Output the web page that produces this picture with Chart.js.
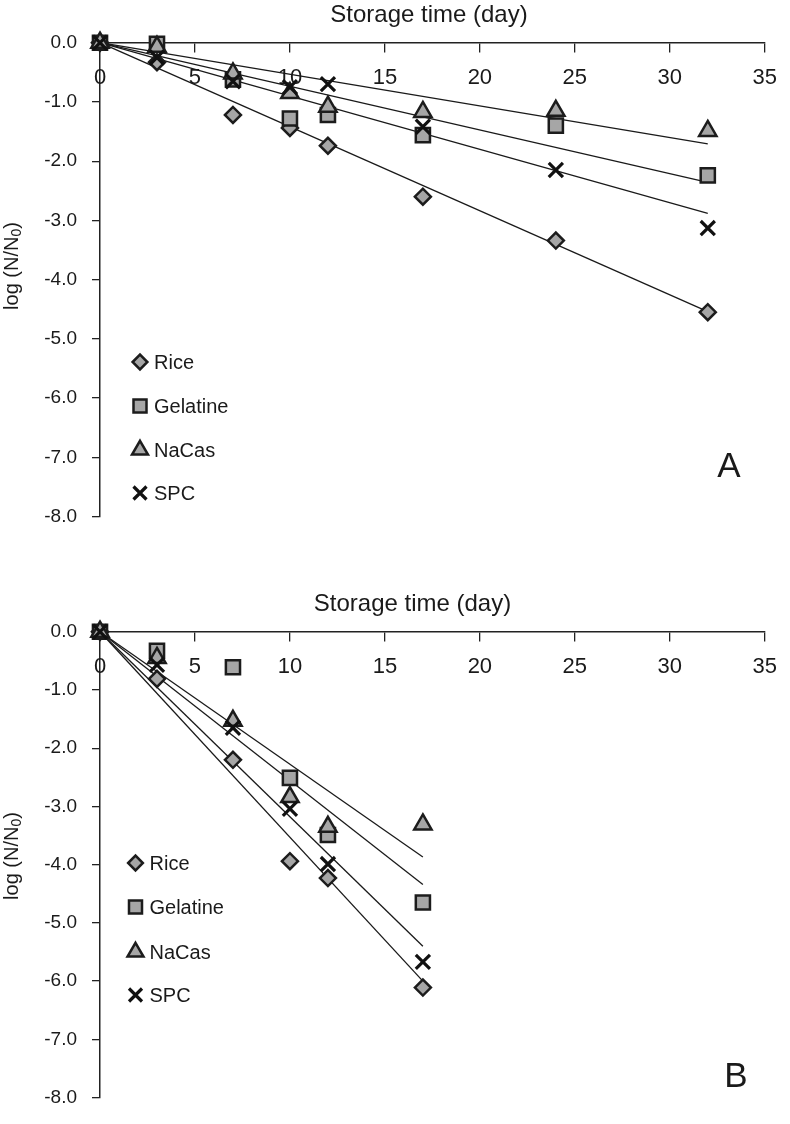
<!DOCTYPE html>
<html>
<head>
<meta charset="utf-8">
<script src="https://cdn.jsdelivr.net/npm/chart.js@4/dist/chart.umd.min.js"></script>
<style>
html, body { margin: 0; padding: 0; background: #fff; }
#wrapA { position: absolute; left: 0; top: 0; width: 790px; height: 560px; }
#wrapB { position: absolute; left: 0; top: 560px; width: 790px; height: 564px; }
</style>
</head>
<body>
<div id="wrapA"><canvas id="chartA" width="790" height="560"></canvas></div>
<div id="wrapB"><canvas id="chartB" width="790" height="564"></canvas></div>
<script>
var seriesNames = ['Rice', 'Gelatine', 'NaCas', 'SPC'];
var pointStyles = ['rectRot', 'rect', 'triangle', 'crossRot'];
var pointSizes = [8, 10, 10, 10];

// panel A
var daysA = [0, 3, 7, 10, 12, 17, 24, 32];
var riceA = [0, -0.33, -1.22, -1.44, -1.74, -2.60, -3.34, -4.55];
var gelatineA = [0, -0.02, -0.62, -1.28, -1.22, -1.56, -1.40, -2.24];
var nacasA = [0, -0.07, -0.52, -0.85, -1.08, -1.17, -1.15, -1.49];
var spcA = [0, -0.25, -0.65, -0.75, -0.70, -1.42, -2.15, -3.13];
// fitted lines: value at day 0 and at last day
var trendStartA = [0, 0, 0, 0];
var trendEndA = [-4.54, -2.36, -1.71, -2.88];

// panel B
var daysB = [0, 3, 7, 10, 12, 17];
var riceB = [0, -0.81, -2.20, -3.94, -4.23, -6.11];
var gelatineB = [0, -0.33, -0.61, -2.51, -3.49, -4.65];
var nacasB = [0, -0.45, -1.53, -2.84, -3.35, -3.31];
var spcB = [0, -0.57, -1.65, -3.04, -3.99, -5.67];
var trendStartB = [0, 0, 0, 0];
var trendEndB = [-6.00, -4.34, -3.87, -5.40];

var xMin = 0, xMax = 35, xStep = 5;
var yMin = -8, yMax = 0, yStep = 1;

var FONT = '"Liberation Sans", Arial, Helvetica, sans-serif';
var INK = '#1a1a1a';
var markerFill = '#a6a6a6';
var markerEdge = '#1c1c1c';

Chart.defaults.font.family = FONT;
Chart.defaults.color = INK;

function buildDatasets(days, series, tStart, tEnd) {
    var sets = [];
    series.forEach(function (vals, i) {
        sets.push({
            label: seriesNames[i],
            data: days.map(function (d, j) { return {x: d, y: vals[j]}; }),
            showLine: false,
            pointStyle: pointStyles[i],
            pointRadius: pointSizes[i],
            pointHoverRadius: pointSizes[i],
            pointBackgroundColor: markerFill,
            pointBorderColor: i == 3 ? '#111' : markerEdge,
            pointBorderWidth: i == 3 ? 3.2 : 2.5,
            backgroundColor: markerFill,
            borderColor: markerEdge,
            order: 4 - i,
            clip: false
        });
    });
    tEnd.forEach(function (v, i) {
        sets.push({
            label: seriesNames[i] + ' fit',
            isTrend: true,
            data: [{x: days[0], y: tStart[i]}, {x: days[days.length - 1], y: v}],
            showLine: true,
            borderColor: INK,
            borderWidth: 1.3,
            pointRadius: 0,
            pointHoverRadius: 0,
            order: 10,
            clip: false
        });
    });
    return sets;
}

// axis titles, panel letter and legend drawn on top
var extraText = {
    id: 'extraText',
    afterDraw: function (chart, args, o) {
        var ctx = chart.ctx;
        ctx.save();
        ctx.fillStyle = INK;
        ctx.textBaseline = 'middle';
        ctx.textAlign = 'center';
        ctx.font = '24px ' + FONT;
        ctx.fillText('Storage time (day)', o.xTitle[0], o.xTitle[1]);

        ctx.font = '35px ' + FONT;
        ctx.fillText(o.letter, o.letterPos[0], o.letterPos[1]);

        // legend
        ctx.textAlign = 'left';
        ctx.font = '20px ' + FONT;
        var row = 0;
        chart.data.datasets.forEach(function (ds) {
            if (ds.isTrend) return;
            var y = o.legendRows[row++];
            ctx.fillStyle = ds.pointBackgroundColor;
            ctx.strokeStyle = ds.pointBorderColor;
            ctx.lineWidth = ds.pointBorderWidth;
            Chart.helpers.drawPoint(ctx, {
                pointStyle: ds.pointStyle,
                radius: ds.pointRadius * 0.92,
                borderWidth: ds.pointBorderWidth,
                rotation: 0
            }, o.legendX, y);
            ctx.fillStyle = INK;
            ctx.fillText(ds.label, o.legendTextX, y + 1);
        });

        // y title with subscript
        ctx.translate(o.yTitle[0], o.yTitle[1]);
        ctx.rotate(-Math.PI / 2);
        var big = '20px ' + FONT, small = '14px ' + FONT;
        ctx.font = big;
        var w1 = ctx.measureText('log (N/N').width;
        var w3 = ctx.measureText(')').width;
        ctx.font = small;
        var w2 = ctx.measureText('0').width;
        var x0 = -(w1 + w2 + w3) / 2;
        ctx.font = big;
        ctx.fillText('log (N/N', x0, 0);
        ctx.font = small;
        ctx.fillText('0', x0 + w1, 5);
        ctx.font = big;
        ctx.fillText(')', x0 + w1 + w2, 0);
        ctx.restore();
    }
};

function makeChart(id, datasets, padding, text) {
    return new Chart(document.getElementById(id), {
        type: 'scatter',
        data: {datasets: datasets},
        plugins: [extraText],
        options: {
            responsive: false,
            devicePixelRatio: 1,
            animation: false,
            events: [],
            layout: {padding: padding},
            plugins: {
                legend: {display: false},
                tooltip: {enabled: false},
                extraText: text
            },
            scales: {
                y: {
                    type: 'linear',
                    position: 'left',
                    min: yMin,
                    max: yMax,
                    ticks: {
                        stepSize: yStep,
                        font: {size: 19},
                        color: INK,
                        padding: 15,
                        callback: function (v) { return v.toFixed(1); }
                    },
                    grid: {drawOnChartArea: false, tickLength: 8, color: '#222', lineWidth: 1.3},
                    border: {color: '#222', width: 1.5},
                    afterFit: function (s) { s.width = 100; }
                },
                x: {
                    type: 'linear',
                    position: {y: 0},
                    min: xMin,
                    max: xMax,
                    ticks: {stepSize: xStep, font: {size: 22}, color: INK, padding: 13, autoSkip: false},
                    grid: {drawOnChartArea: false, tickLength: 9, color: '#222', lineWidth: 1.3},
                    border: {color: '#222', width: 1.5}
                }
            }
        }
    });
}

var chartA = makeChart('chartA',
    buildDatasets(daysA, [riceA, gelatineA, nacasA, spcA], trendStartA, trendEndA),
    {top: 42.7, right: 23.3, bottom: 43.5, left: 0},
    {xTitle: [429, 15], yTitle: [12.5, 266], letter: 'A', letterPos: [729, 467],
     legendX: 140, legendTextX: 154, legendRows: [362, 406, 450, 493]});

var chartB = makeChart('chartB',
    buildDatasets(daysB, [riceB, gelatineB, nacasB, spcB], trendStartB, trendEndB),
    {top: 71.7, right: 13.3, bottom: 15, left: 0},
    {xTitle: [412.5, 44], yTitle: [12.5, 296], letter: 'B', letterPos: [736, 517],
     legendX: 135.5, legendTextX: 149.5, legendRows: [303, 347, 392, 435]});
</script>
</body>
</html>
